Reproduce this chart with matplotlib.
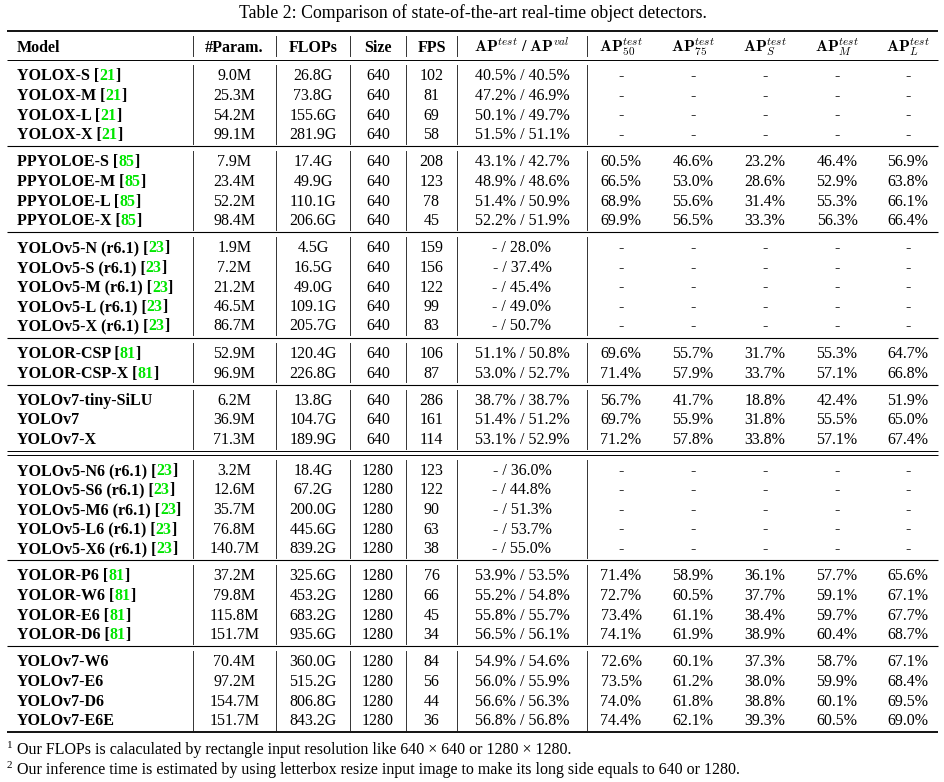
import matplotlib
matplotlib.use('Agg')
import matplotlib.pyplot as plt

plt.rcParams['font.family'] = ['Liberation Serif', 'DejaVu Serif']
plt.rcParams['mathtext.fontset'] = 'cm'

# table data, one list per column
models = ['YOLOX-S', 'YOLOX-M', 'YOLOX-L', 'YOLOX-X',
          'PPYOLOE-S', 'PPYOLOE-M', 'PPYOLOE-L', 'PPYOLOE-X',
          'YOLOv5-N (r6.1)', 'YOLOv5-S (r6.1)', 'YOLOv5-M (r6.1)', 'YOLOv5-L (r6.1)', 'YOLOv5-X (r6.1)',
          'YOLOR-CSP', 'YOLOR-CSP-X',
          'YOLOv7-tiny-SiLU', 'YOLOv7', 'YOLOv7-X',
          'YOLOv5-N6 (r6.1)', 'YOLOv5-S6 (r6.1)', 'YOLOv5-M6 (r6.1)', 'YOLOv5-L6 (r6.1)', 'YOLOv5-X6 (r6.1)',
          'YOLOR-P6', 'YOLOR-W6', 'YOLOR-E6', 'YOLOR-D6',
          'YOLOv7-W6', 'YOLOv7-E6', 'YOLOv7-D6', 'YOLOv7-E6E']
cites = ['21'] * 4 + ['85'] * 4 + ['23'] * 5 + ['81'] * 2 + [None] * 3 + ['23'] * 5 + ['81'] * 4 + [None] * 4
params = [9.0, 25.3, 54.2, 99.1, 7.9, 23.4, 52.2, 98.4, 1.9, 7.2, 21.2, 46.5, 86.7, 52.9, 96.9,
          6.2, 36.9, 71.3, 3.2, 12.6, 35.7, 76.8, 140.7, 37.2, 79.8, 115.8, 151.7, 70.4, 97.2, 154.7, 151.7]
flops = [26.8, 73.8, 155.6, 281.9, 17.4, 49.9, 110.1, 206.6, 4.5, 16.5, 49.0, 109.1, 205.7, 120.4, 226.8,
         13.8, 104.7, 189.9, 18.4, 67.2, 200.0, 445.6, 839.2, 325.6, 453.2, 683.2, 935.6,
         360.0, 515.2, 806.8, 843.2]
sizes = [640] * 18 + [1280] * 13
fps = [102, 81, 69, 58, 208, 123, 78, 45, 159, 156, 122, 99, 83, 106, 87, 286, 161, 114,
       123, 122, 90, 63, 38, 76, 66, 45, 34, 84, 56, 44, 36]
ap_test = [40.5, 47.2, 50.1, 51.5, 43.1, 48.9, 51.4, 52.2, None, None, None, None, None, 51.1, 53.0,
           38.7, 51.4, 53.1, None, None, None, None, None, 53.9, 55.2, 55.8, 56.5, 54.9, 56.0, 56.6, 56.8]
ap_val = [40.5, 46.9, 49.7, 51.1, 42.7, 48.6, 50.9, 51.9, 28.0, 37.4, 45.4, 49.0, 50.7, 50.8, 52.7,
          38.7, 51.2, 52.9, 36.0, 44.8, 51.3, 53.7, 55.0, 53.5, 54.8, 55.7, 56.1, 54.6, 55.9, 56.3, 56.8]
N = None
ap50 = [N] * 4 + [60.5, 66.5, 68.9, 69.9] + [N] * 5 + [69.6, 71.4, 56.7, 69.7, 71.2] + [N] * 5 + \
       [71.4, 72.7, 73.4, 74.1, 72.6, 73.5, 74.0, 74.4]
ap75 = [N] * 4 + [46.6, 53.0, 55.6, 56.5] + [N] * 5 + [55.7, 57.9, 41.7, 55.9, 57.8] + [N] * 5 + \
       [58.9, 60.5, 61.1, 61.9, 60.1, 61.2, 61.8, 62.1]
apS = [N] * 4 + [23.2, 28.6, 31.4, 33.3] + [N] * 5 + [31.7, 33.7, 18.8, 31.8, 33.8] + [N] * 5 + \
      [36.1, 37.7, 38.4, 38.9, 37.3, 38.0, 38.8, 39.3]
apM = [N] * 4 + [46.4, 52.9, 55.3, 56.3] + [N] * 5 + [55.3, 57.1, 42.4, 55.5, 57.1] + [N] * 5 + \
      [57.7, 59.1, 59.7, 60.4, 58.7, 59.9, 60.1, 60.5]
apL = [N] * 4 + [56.9, 63.8, 66.1, 66.4] + [N] * 5 + [64.7, 66.8, 51.9, 65.0, 67.4] + [N] * 5 + \
      [65.6, 67.1, 67.7, 68.7, 67.1, 68.4, 69.5, 69.0]
group_sizes = [4, 4, 5, 2, 3, 5, 4, 4]

headers = ['#Param.', 'FLOPs', 'Size', 'FPS', r'$\mathbf{AP}^{test}$ / $\mathbf{AP}^{val}$',
           r'$\mathbf{AP}^{test}_{50}$', r'$\mathbf{AP}^{test}_{75}$', r'$\mathbf{AP}^{test}_{S}$',
           r'$\mathbf{AP}^{test}_{M}$', r'$\mathbf{AP}^{test}_{L}$']
title = 'Table 2: Comparison of state-of-the-art real-time object detectors.'
notes = ['Our FLOPs is calaculated by rectangle input resolution like 640 \u00d7 640 or 1280 \u00d7 1280.',
         'Our inference time is estimated by using letterbox resize input image to make its long side equals to 640 or 1280.']

W, H = 945, 782
fig = plt.figure(figsize=(W / 100, H / 100), dpi=100)
ax = fig.add_axes([0, 0, 1, 1])
ax.set_xlim(0, W)
ax.set_ylim(H, 0)
ax.axis('off')
rend = fig.canvas.get_renderer()

fs = 11.5
green = '#00e600'
x_left, x_right = 7, 938
x_model = 17
col_x = [234.5, 313, 378, 431.5, 522, 621, 693, 765, 837, 908]
seps = [193, 276, 350, 406, 457, 587]
base_off = 5.5   # baseline below row centre
row_h = 19.5


def hrule(y, lw):
    ax.plot([x_left, x_right], [y, y], color='black', lw=lw, solid_capstyle='butt')


def vlines(y0, y1):
    for sx in seps:
        ax.plot([sx, sx], [y0, y1], color='#333333', lw=0.7)


def pct(v):
    return '-' if v is None else f'{v:.1f}%'


# title
ax.text(W / 2, 13, title, ha='center', va='center', fontsize=12.8)

# header
hrule(31, 1.3)
hy = 46
ax.text(x_model, hy + base_off, 'Model', fontsize=fs, fontweight='bold', va='baseline')
for cx, h in zip(col_x, headers):
    ax.text(cx, hy + base_off, h, fontsize=fs, fontweight='bold', ha='center', va='baseline')
vlines(hy - 10, hy + 10)
hrule(60, 0.7)

y = 75
i = 0
for g, n in enumerate(group_sizes):
    y_first = y
    for k in range(n):
        yb = y + base_off
        x = x_model
        pieces = [(models[i] + (' [' if cites[i] else ''), 'black')]
        if cites[i]:
            pieces += [(cites[i], green), (']', 'black')]
        for s, c in pieces:
            t = ax.text(x, yb, s, fontsize=fs, fontweight='bold', color=c, va='baseline')
            x += t.get_window_extent(renderer=rend).width
        apstr = ('-' if ap_test[i] is None else f'{ap_test[i]:.1f}%') + ' / ' + f'{ap_val[i]:.1f}%'
        cells = [f'{params[i]:.1f}M', f'{flops[i]:.1f}G', str(sizes[i]), str(fps[i]), apstr,
                 pct(ap50[i]), pct(ap75[i]), pct(apS[i]), pct(apM[i]), pct(apL[i])]
        for cx, s in zip(col_x, cells):
            ax.text(cx, yb, s, fontsize=fs, ha='center', va='baseline')
        i += 1
        if k < n - 1:
            y += row_h
    vlines(y_first - 10, y + 10)
    if g == len(group_sizes) - 1:
        hrule(y + 12.5, 1.3)
    elif g == 4:
        hrule(y + 12.5, 0.7)
        hrule(y + 16, 0.7)
        y += 31
    else:
        hrule(y + 12.5, 0.8)
        y += 27.5

# footnotes
for j, (ny, s) in enumerate(zip([748, 768], notes)):
    ax.text(7, ny + base_off - 6, str(j + 1), fontsize=8, va='baseline')
    ax.text(17, ny + base_off, s, fontsize=fs, va='baseline')

fig.savefig('out.png', dpi=100)
